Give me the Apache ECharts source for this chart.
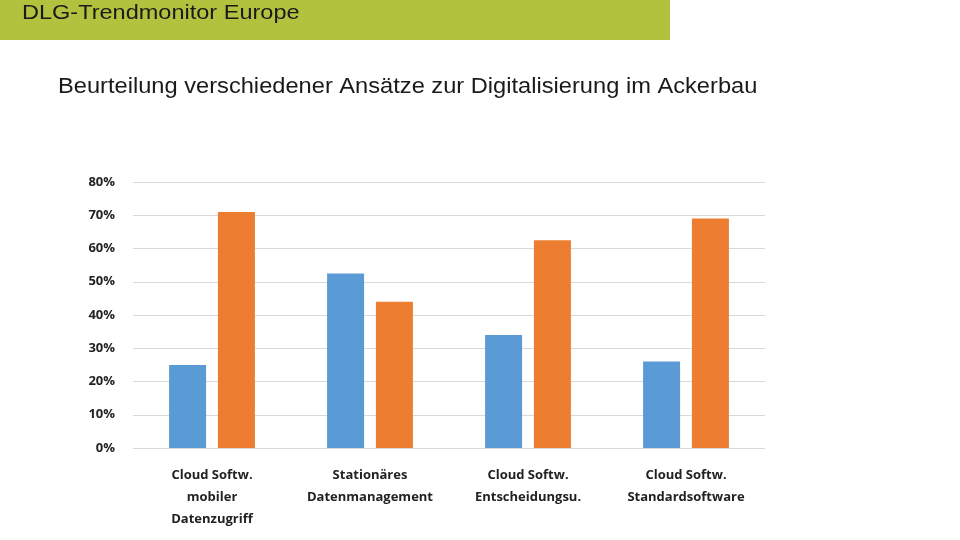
<!DOCTYPE html>
<html><head><meta charset="utf-8">
<script src="https://cdn.jsdelivr.net/npm/echarts@6/dist/echarts.min.js"></script>
<style>html,body{margin:0;padding:0;background:#fff}#c{width:960px;height:540px}</style>
</head><body><div id="c"></div>
<script>
const categories = ["Cloud Softw.\nmobiler\nDatenzugriff","Stationäres\nDatenmanagement","Cloud Softw.\nEntscheidungsu.","Cloud Softw.\nStandardsoftware"];
const seriesA = [25, 52.5, 34, 26];
const seriesB = [71, 44, 62.5, 69];
const yTicks = [0,10,20,30,40,50,60,70,80];
const chart = echarts.init(document.getElementById('c'));
chart.setOption({
  animation:false,
  graphic:[
    {type:'rect',shape:{x:0,y:0,width:670,height:40},style:{fill:'#b3c23e'}},
    {type:'text',left:22,top:3,scaleX:1.12,style:{text:'DLG-Trendmonitor Europe',font:'21px "Liberation Sans", Arial',fill:'#1a1a1a'}},
    {type:'text',left:58,top:76,scaleX:1.1,style:{text:'Beurteilung verschiedener Ansätze zur Digitalisierung im Ackerbau',font:'21.5px "Liberation Sans", Arial',fill:'#1a1a1a'}}
  ],
  grid:{left:133,right:195,top:182,bottom:92},
  xAxis:{type:'category',data:categories,axisLine:{show:false},axisTick:{show:false},
    axisLabel:{margin:16,lineHeight:22,fontSize:13,fontWeight:'bold',color:'#222',fontFamily:'"Open Sans", sans-serif',interval:0}},
  yAxis:{type:'value',min:0,max:80,interval:10,
    axisLabel:{formatter:v=>yTicks.includes(v)?v+'%':'',fontSize:13,fontWeight:'bold',color:'#222',fontFamily:'"Open Sans", sans-serif',margin:18},
    splitLine:{lineStyle:{color:'#d9d9d9'}}},
  series:[
    {type:'bar',data:seriesA,barWidth:37,barGap:'32%',itemStyle:{color:'#5b9bd5'}},
    {type:'bar',data:seriesB,barWidth:37,itemStyle:{color:'#ed7d31'}}
  ]
});
</script></body></html>
